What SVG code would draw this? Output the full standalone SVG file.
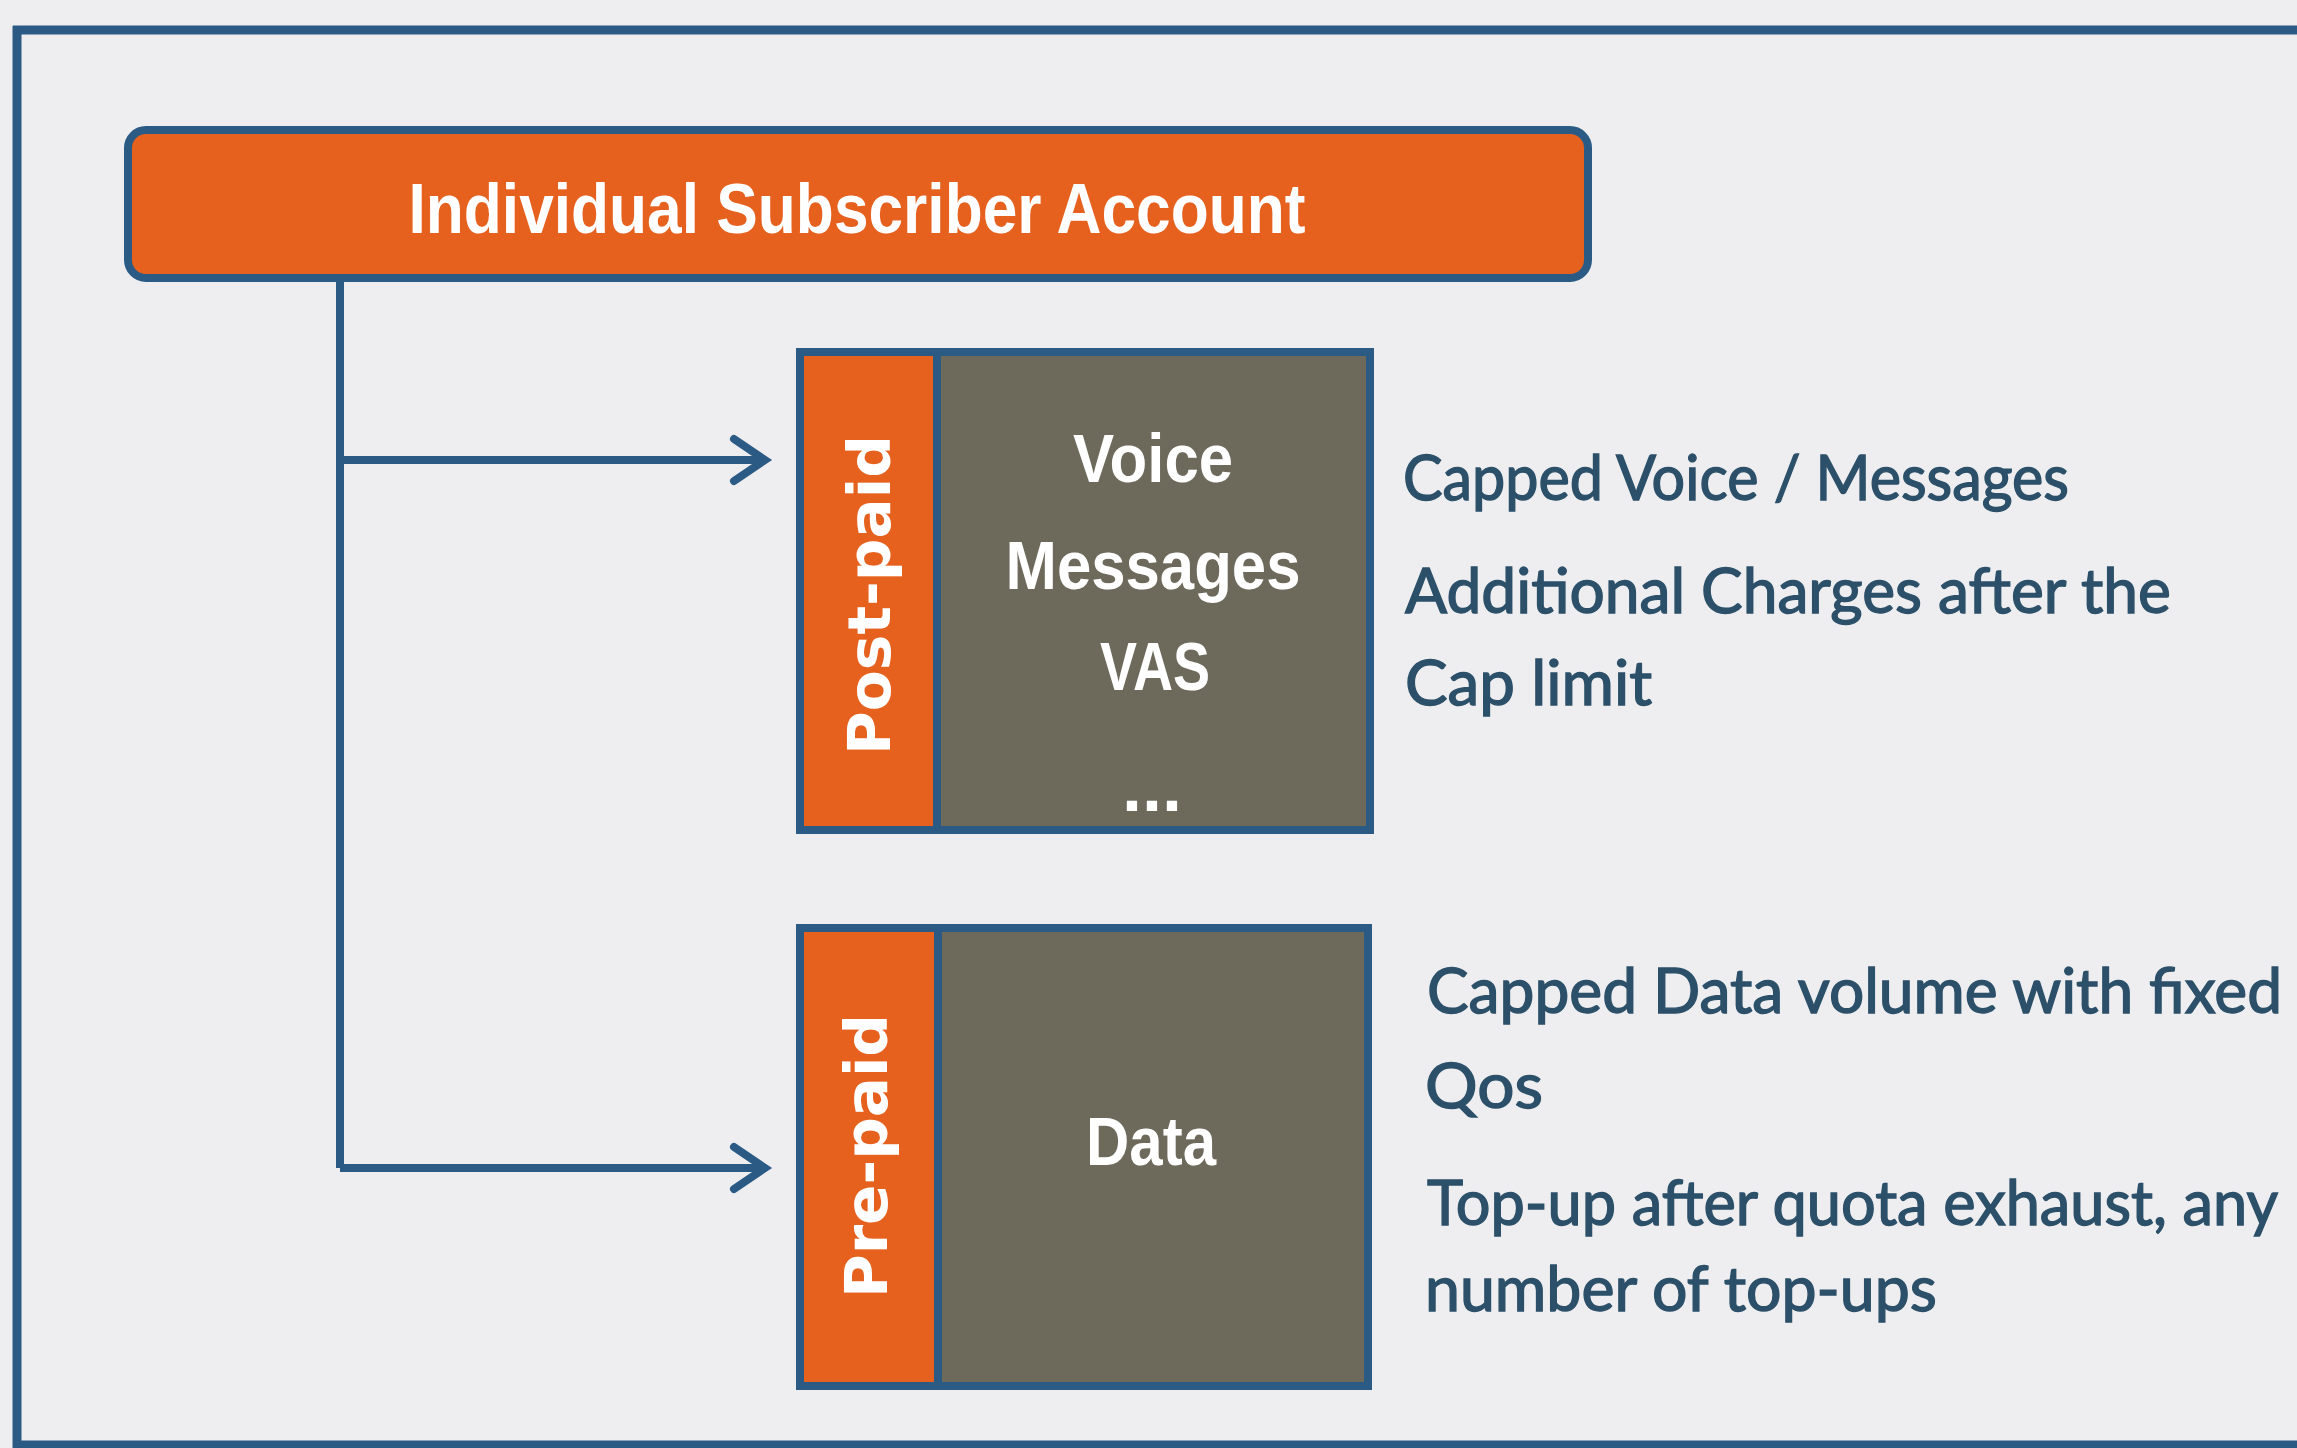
<svg xmlns="http://www.w3.org/2000/svg" width="2297" height="1448" viewBox="0 0 2297 1448">
<style>
.frame{fill:none;stroke:#2b5a84;stroke-width:9}
.conn{fill:none;stroke:#2b5a84;stroke-width:8;stroke-linecap:butt;stroke-linejoin:miter}
.head{fill:none;stroke:#2b5a84;stroke-width:8;stroke-linecap:round;stroke-linejoin:miter}
.orange{fill:#e6601e}
.gray{fill:#6d6a5b}
.border{fill:none;stroke:#2b5a84;stroke-width:8}
.divider{stroke:#2b5a84;stroke-width:8}
.title{font-family:"Liberation Sans",Arial,sans-serif;font-weight:bold;fill:#ffffff;text-anchor:middle}
.side{font-family:"DejaVu Sans",Verdana,sans-serif;font-weight:bold;fill:#ffffff;text-anchor:middle;font-size:59px}
.inner{font-family:"Liberation Sans",Arial,sans-serif;font-weight:bold;fill:#ffffff;text-anchor:middle;font-size:68px}
.note{font-family:Lato,"Open Sans",sans-serif;fill:#2c5069;stroke:#2c5069;stroke-width:1.4;font-size:62px}
</style>
<rect x="0" y="0" width="2297" height="1448" fill="#eeeef0"/>
<g id="frame">
<line class="frame" x1="13" y1="30" x2="2297" y2="30"/>
<line class="frame" x1="17" y1="26" x2="17" y2="1448"/>
<line class="frame" x1="13" y1="1445" x2="2297" y2="1445"/>
</g>
<g id="account">
<rect x="128" y="130" width="1460" height="148" rx="18" ry="18" class="orange" stroke="#2b5a84" stroke-width="8"/>
<text class="title" x="857" y="233" font-size="71" textLength="897" lengthAdjust="spacingAndGlyphs">Individual Subscriber Account</text>
</g>
<g id="connectors">
<path class="conn" d="M340 282 V1168 M340 460 H762 M340 1168 H762"/>
<path class="head" d="M734 439 L765 460 L734 481"/>
<path class="head" d="M734 1147 L765 1168 L734 1189"/>
</g>
<g id="postpaid">
<rect x="800" y="352" width="570" height="478" class="gray"/>
<rect x="800" y="352" width="137" height="478" class="orange"/>
<line class="divider" x1="937" y1="352" x2="937" y2="830"/>
<rect x="800" y="352" width="570" height="478" class="border"/>
<text class="side" transform="translate(890,595) rotate(-90)" textLength="320" lengthAdjust="spacingAndGlyphs">Post-paid</text>
<text class="inner" x="1153" y="482" textLength="160" lengthAdjust="spacingAndGlyphs">Voice</text>
<text class="inner" x="1153" y="589" textLength="295" lengthAdjust="spacingAndGlyphs">Messages</text>
<text class="inner" x="1155" y="690" textLength="110" lengthAdjust="spacingAndGlyphs">VAS</text>
<text class="inner" x="1152" y="811" textLength="60" lengthAdjust="spacingAndGlyphs">...</text>
</g>
<g id="postpaid-notes">
<text class="note" x="1403" y="500" textLength="666" lengthAdjust="spacingAndGlyphs">Capped Voice / Messages</text>
<text class="note" x="1405" y="613" textLength="766" lengthAdjust="spacingAndGlyphs">Additional Charges after the</text>
<text class="note" x="1405" y="705" textLength="247" lengthAdjust="spacingAndGlyphs">Cap limit</text>
</g>
<g id="prepaid">
<rect x="800" y="928" width="568" height="458" class="gray"/>
<rect x="800" y="928" width="138" height="458" class="orange"/>
<line class="divider" x1="938" y1="928" x2="938" y2="1386"/>
<rect x="800" y="928" width="568" height="458" class="border"/>
<text class="side" transform="translate(887,1156) rotate(-90)" textLength="284" lengthAdjust="spacingAndGlyphs">Pre-paid</text>
<text class="inner" x="1151" y="1165" textLength="130" lengthAdjust="spacingAndGlyphs">Data</text>
</g>
<g id="prepaid-notes">
<text class="note" x="1427" y="1013" textLength="855" lengthAdjust="spacingAndGlyphs">Capped Data volume with fixed</text>
<text class="note" x="1425" y="1108" textLength="118" lengthAdjust="spacingAndGlyphs">Qos</text>
<text class="note" x="1427" y="1225" textLength="851" lengthAdjust="spacingAndGlyphs">Top-up after quota exhaust, any</text>
<text class="note" x="1425" y="1311" textLength="512" lengthAdjust="spacingAndGlyphs">number of top-ups</text>
</g>
</svg>
